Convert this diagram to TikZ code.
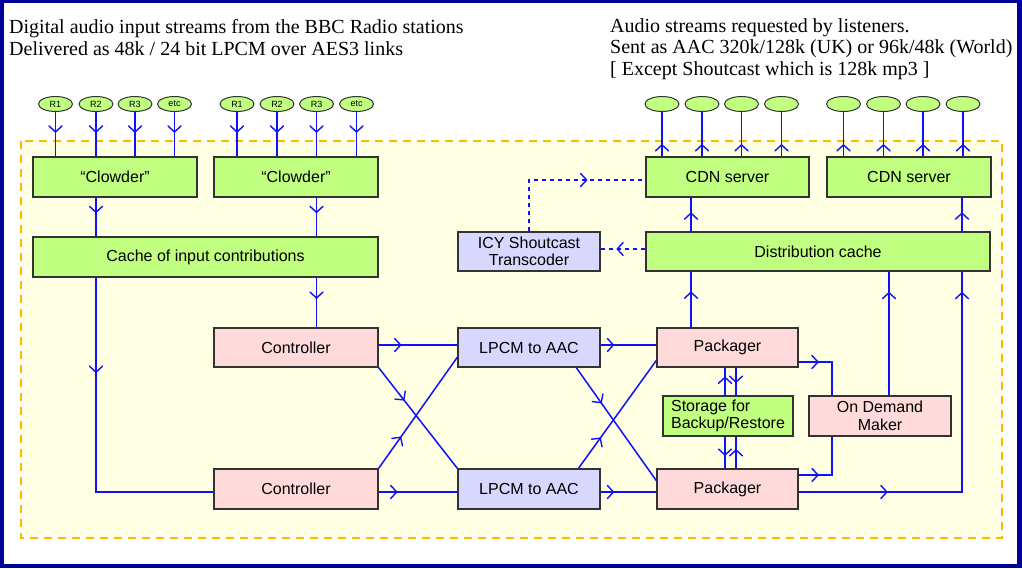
\documentclass[tikz,border=0pt]{standalone}
\usepackage{fontspec}
\setmainfont{Liberation Serif}
\setsansfont{Liberation Sans}
\usetikzlibrary{decorations.markings,calc,shapes.geometric}
\definecolor{boxgreen}{HTML}{C0FF80}
\definecolor{boxpink}{HTML}{FFDADA}
\definecolor{boxlav}{HTML}{D8D8FF}
\definecolor{bgyellow}{HTML}{FFFFE3}
\definecolor{dashorange}{HTML}{FFB800}
\definecolor{linkblue}{HTML}{1010FF}
\definecolor{framenavy}{HTML}{000099}
\begin{document}
\begin{tikzpicture}[x=1pt,y=-1pt,
  box/.style={draw=black!80,line width=1.2pt,minimum width=#1,minimum height=40pt,inner sep=0pt,
    font=\sffamily\fontsize{16}{17.5}\selectfont},
  gbox/.style={box=#1,fill=boxgreen},
  pbox/.style={box=#1,fill=boxpink},
  lbox/.style={box=#1,fill=boxlav},
  ell/.style={ellipse,draw=black!80,fill=boxgreen,line width=1pt,minimum width=34pt,minimum height=15pt,
    inner sep=0pt,font=\sffamily\fontsize{9}{10}\selectfont},
  link/.style={draw=linkblue,line width=1.5pt},
  dlink/.style={link,dash pattern=on 4.5pt off 3.5pt},
  marr/.style={postaction={decorate,decoration={markings,
    mark=at position #1 with {\draw[linkblue,solid,line width=1.4pt,line cap=round,line join=round]
      (-6pt,6.5pt) .. controls (-3pt,3pt) .. (0pt,0pt) .. controls (-3pt,-3pt) .. (-6pt,-6.5pt);}}}},
  title/.style={anchor=base west,align=left,inner sep=0pt,font=\fontsize{20}{22}\selectfont}
]
\useasboundingbox (0,0) rectangle (1022,568);
\fill[framenavy] (0,0) rectangle (1022,568);
\fill[white] (3.5,3) rectangle (1017,564);
\draw[dashorange,line width=2.5pt,dash pattern=on 8pt off 6pt,fill=bgyellow] (21,141) rectangle (1002,538);

\node[title] (tl) at (9,55) {Digital audio input streams from the BBC Radio stations\\Delivered as 48k / 24 bit LPCM over AES3 links};
\node[title,font=\fontsize{20}{21.5}\selectfont] (tr) at (610,75) {Audio streams requested by listeners.\\Sent as AAC 320k/128k (UK) or 96k/48k (World)\\{[} Except Shoutcast which is 128k mp3 ]};

% input ellipses
\node[ell] (a1) at (55.5,104) {R1};
\node[ell] (a2) at (96,104) {R2};
\node[ell] (a3) at (135,104) {R3};
\node[ell] (a4) at (174.5,104) {etc};
\node[ell] (b1) at (237,104) {R1};
\node[ell] (b2) at (277,104) {R2};
\node[ell] (b3) at (316.5,104) {R3};
\node[ell] (b4) at (356.5,104) {etc};
% output ellipses
\node[ell] (c1) at (662,104) {};
\node[ell] (c2) at (702,104) {};
\node[ell] (c3) at (741.5,104) {};
\node[ell] (c4) at (781.5,104) {};
\node[ell] (d1) at (843.5,104) {};
\node[ell] (d2) at (883.5,104) {};
\node[ell] (d3) at (923,104) {};
\node[ell] (d4) at (963,104) {};

% boxes
\node[gbox=164pt] (clw1) at (115,177) {“Clowder”};
\node[gbox=164pt] (clw2) at (296,177) {“Clowder”};
\node[gbox=345pt] (cache) at (205.5,257) {Cache of input contributions};
\node[pbox=164pt,minimum height=39pt] (ctl1) at (296,347.5) {Controller};
\node[pbox=164pt] (ctl2) at (296,489) {Controller};
\node[lbox=142pt,minimum height=39pt] (lp1) at (529,347.5) {LPCM to AAC};
\node[lbox=142pt] (lp2) at (529,489) {LPCM to AAC};
\node[pbox=141pt,minimum height=39pt] (pk1) at (727.5,347.5) {Packager};
\node[pbox=141pt] (pk2) at (727.5,489) {Packager};
\node[gbox=130pt,align=left] (sto) at (728,416) {Storage for\\Backup/Restore};
\node[pbox=142pt,align=center] (odm) at (880,416) {On Demand\\Maker};
\node[gbox=344pt,minimum height=39pt] (dc) at (818,251.5) {Distribution cache};
\node[lbox=142pt,minimum height=39pt,align=center] (icy) at (529,251.5) {ICY Shoutcast\\Transcoder};
\node[gbox=163pt] (cdn1) at (727.5,177) {CDN server};
\node[gbox=164pt] (cdn2) at (909,177) {CDN server};

\coordinate (xa) at (691,0);
\coordinate (xb) at (962,0);
\coordinate (xc) at (832,0);
\coordinate (xd) at (889,0);
\coordinate (xs1) at (725,0);
\coordinate (xs2) at (736,0);

% input / output links
\foreach \i in {1,...,4} {
  \draw[link,marr=0.45] (a\i.south) -- (a\i.south |- clw1.north);
  \draw[link,marr=0.45] (b\i.south) -- (b\i.south |- clw2.north);
  \draw[link,marr=0.26] (c\i.south |- cdn1.north) -- (c\i.south);
  \draw[link,marr=0.26] (d\i.south |- cdn2.north) -- (d\i.south);
}
\draw[link,marr=0.38] (clw1.south -| a2) -- (cache.north -| a2);
\draw[link,marr=0.38] (clw2.south -| b3) -- (cache.north -| b3);
\draw[link,marr=0.41] (cache.south -| b3) -- (ctl1.north -| b3);
\draw[link,marr=0.285] (cache.south -| a2) |- ($(ctl2.west)+(0,3)$);

\draw[link,marr=0.28] ($(ctl1.east)+(0,-2.5)$) -- ($(lp1.west)+(0,-2.5)$);
\draw[link,marr=0.23] ($(ctl2.east)+(0,3)$) -- ($(lp2.west)+(0,3)$);
\draw[link,marr=0.32] (ctl1.south east) -- (lp2.north west);
\draw[link,marr=0.28] (ctl2.north east) -- ($(lp1.south west)!0.26!(lp1.north west)$);

\draw[link,marr=0.23] ($(lp1.east)+(0,-2.5)$) -- ($(pk1.west)+(0,-2.5)$);
\draw[link,marr=0.23] ($(lp2.east)+(0,3)$) -- ($(pk2.west)+(0,3)$);
\draw[link,marr=0.31] ($(lp1.south west)!0.83!(lp1.south east)$) -- ($(pk2.north west)!0.3!(pk2.south west)$);
\draw[link,marr=0.28] ($(lp2.north west)!0.845!(lp2.north east)$) -- ($(pk1.south west)!0.18!(pk1.north west)$);

\draw[link,marr=0.63] (pk1.north -| xa) -- (dc.south -| xa);
\draw[link,marr=0.54] (dc.north -| xa) -- (cdn1.south -| xa);
\draw[link,marr=0.54] (dc.north -| xb) -- (cdn2.south -| xb);
\draw[link,marr=0.23,marr=0.945] ($(pk2.east)+(0,3)$) -| (dc.south -| xb);
\draw[link,marr=0.83] (odm.north -| xd) -- (dc.south -| xd);
\draw[link,marr=0.29] ($(pk1.east)+(0,14.5)$) -| (odm.north -| xc);
\draw[link,marr=0.27] ($(pk2.east)+(0,-14)$) -| (odm.south -| xc);

\draw[link,marr=0.65] (sto.north -| xs1) -- (pk1.south -| xs1);
\draw[link,marr=0.52] (pk1.south -| xs2) -- (sto.north -| xs2);
\draw[link,marr=0.58] (sto.south -| xs1) -- (pk2.north -| xs1);
\draw[link,marr=0.58] (pk2.north -| xs2) -- (sto.south -| xs2);

\draw[dlink,marr=0.63] ($(dc.west)+(0,-2.5)$) -- ($(icy.east)+(0,-2.5)$);
\draw[dlink,marr=0.65] (icy.north) |- ($(cdn1.west)+(0,3)$);
\end{tikzpicture}
\end{document}
